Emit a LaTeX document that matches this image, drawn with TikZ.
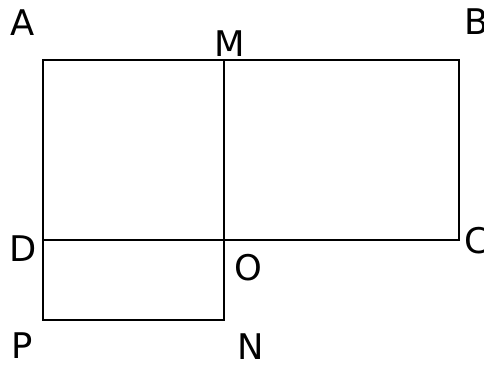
\documentclass[tikz,border=0pt]{standalone}
\usepackage{fontspec}
\setmainfont{DejaVu Sans}
\begin{document}
\begin{tikzpicture}[x=0.75pt,y=-0.75pt,
  seg/.style={line width=1.5pt,line cap=butt,line join=miter},
  lbl/.style={inner sep=0pt,anchor=center,font=\fontsize{26.5}{32}\selectfont}]
\useasboundingbox (0,0) rectangle (484,365);
\coordinate (a) at (43,60);
\coordinate (m) at (224,60);
\coordinate (b) at (459,60);
\coordinate (c) at (459,240);
\coordinate (o) at (224,240);
\coordinate (d) at (43,240);
\coordinate (p) at (43,320);
\coordinate (n) at (224,320);
\draw[seg] (a) -- (b) -- (c) -- (d) -- cycle;
\draw[seg] (m) -- (o) -- (n) -- (p) -- (d);
\node[lbl] (la) at (23,23) {A};
\node[lbl] (lm) at (230,44) {M};
\node[lbl] (lb) at (477,22) {B};
\node[lbl] (ld) at (23,249) {D};
\node[lbl] (lc) at (477,241) {C};
\node[lbl] (lo) at (248,268) {O};
\node[lbl] (lp) at (22,346) {P};
\node[lbl] (ln) at (251,347) {N};
\end{tikzpicture}
\end{document}
